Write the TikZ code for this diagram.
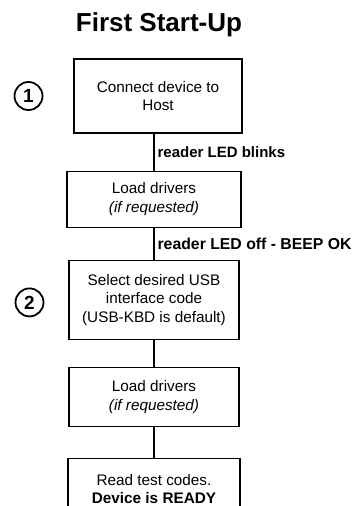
\documentclass[tikz,border=0pt]{standalone}
\usepackage{fontspec}
\setmainfont{Liberation Sans}
\usetikzlibrary{positioning}

\tikzset{
  stepbox/.style={draw, line width=1.2pt, align=center, inner sep=2pt,
    font=\fontsize{15.3}{18.5}\selectfont},
  num/.style={draw, circle, line width=1.8pt, minimum size=28pt, inner sep=0pt,
    font=\bfseries\fontsize{19}{19}\selectfont},
  link/.style={line width=1.2pt},
  msg/.style={right, inner sep=3pt, font=\bfseries\fontsize{15}{15}\selectfont}
}

\begin{document}
\begin{tikzpicture}[x=1pt, y=1pt]
    \useasboundingbox (0,0) rectangle (353,-506);
    \node (title) [anchor=base, font=\bfseries\fontsize{26}{26}\selectfont] at (159,-31.7) {First Start-Up};
    \node (s1) [stepbox, minimum width=168pt, minimum height=74pt] at (158,-96) {Connect device to\\Host};
    \node (s2) [stepbox, minimum width=174pt, minimum height=56pt, below=37pt of s1, xshift=-4pt] {Load drivers\\\textit{(if requested)}};
    \node (s3) [stepbox, minimum width=170pt, minimum height=79pt, below=32pt of s2] {Select desired USB\\interface code\\(USB-KBD is default)};
    \node (s4) [stepbox, minimum width=170pt, minimum height=59pt, below=27pt of s3] {Load drivers\\\textit{(if requested)}};
    \node (s5) [stepbox, minimum width=172pt, minimum height=60pt, below=31pt of s4] {Read test codes.\\\textbf{Device is READY}};
    \node (n1) [num, left=30pt of s1] {1};
    \node (n2) [num, left=24pt of s3, yshift=-2.5pt] {2};
    \path [link]
    (s2 |- s1.south) edge node[msg] {reader LED blinks} (s2)
    (s2) edge node[msg, font=\bfseries\fontsize{15.8}{15.8}\selectfont] {reader LED off - BEEP OK} (s3)
    (s3) edge (s4)
    (s4) edge (s5);
\end{tikzpicture}
\end{document}
